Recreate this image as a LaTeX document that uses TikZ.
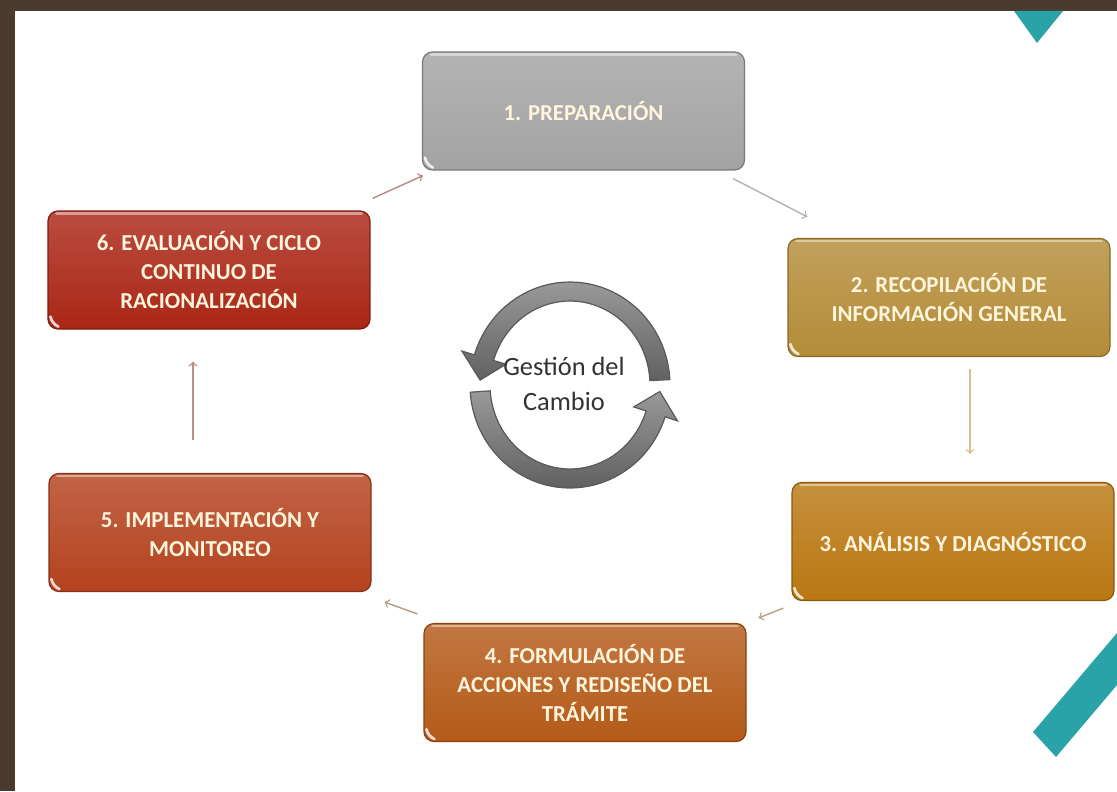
\documentclass[tikz,border=0pt]{standalone}
\usepackage{fontspec}
\setmainfont{Carlito}
\usepackage{tikz}
\usepackage{xcolor}

\definecolor{frame}{HTML}{4B3A2E}
\definecolor{teal}{HTML}{2AA3A8}
\definecolor{cream}{HTML}{FFF5DC}
\definecolor{c1}{HTML}{A3A3A3}
\definecolor{c2}{HTML}{B48C38}
\definecolor{c3}{HTML}{B97712}
\definecolor{c4}{HTML}{B45A18}
\definecolor{c5}{HTML}{B4421E}
\definecolor{c6}{HTML}{AA2616}

\begin{document}
\begin{tikzpicture}[x=0.5pt, y=-0.5pt,
  main/.style = {draw=#1!75!black, line width=0.6pt, rounded corners=5pt,
    top color=#1!82!white, bottom color=#1, text=cream, align=center,
    minimum width=161pt, minimum height=59pt,
    font=\bfseries\fontsize{11.4}{14.5}\selectfont},
  link/.style = {->, line width=0.7pt, draw=#1},
  gloss/.style = {white, line width=1.4pt, line cap=round, opacity=0.8},
  ring/.style = {draw=black!65, line width=0.6pt, top color=black!40, bottom color=black!62}]
\useasboundingbox (0,0) rectangle (1117,791);
\fill[white] (0,0) rectangle (1117,791);

% frame and stripes
\fill[frame] (0,0) rectangle (1117,11);
\fill[frame] (0,0) rectangle (15,791);
\fill[teal] (1014,11) -- (1063,11) -- (1037,43) -- cycle;
\fill[teal] (1033,732) -- (1117,633) -- (1117,685) -- (1056,757) -- cycle;

% stages
\node[main=c1] (1) at (583.5,111) {1. PREPARACIÓN};
\node[main=c2] (2) at (949,297.5) {2. RECOPILACIÓN DE\\INFORMACIÓN GENERAL};
\node[main=c3] (3) at (953,541.5) {3. ANÁLISIS Y DIAGNÓSTICO};
\node[main=c4] (4) at (585,682.5) {4. FORMULACIÓN DE\\ACCIONES Y REDISEÑO DEL\\TRÁMITE};
\node[main=c5] (5) at (210,532.5) {5. IMPLEMENTACIÓN Y\\MONITOREO};
\node[main=c6] (6) at (209,270) {6. EVALUACIÓN Y CICLO\\CONTINUO DE\\RACIONALIZACIÓN};

% glossy edges
\foreach \n in {1,...,6} {
  \draw[gloss] ([shift={(3,-13)}]\n.south west) to[bend right=25] ([shift={(11,-3)}]\n.south west);
  \draw[gloss, opacity=0.45] ([shift={(9,3)}]\n.north west) -- ([shift={(-9,3)}]\n.north east);
}

\draw[link=c6!45!gray!70] ([shift={(2,-12)}]6.north east) -- ([shift={(1,5)}]1.south west);
\draw[link=black!30] ([shift={(-12,8)}]1.south east) -- ([shift={(20,-21)}]2.north west);
\draw[link=c2!55!white] ([shift={(21,12)}]2.south) -- ([shift={(17,-28)}]3.north);
\draw[link=c3!40!gray!70] ([shift={(-8,7)}]3.south west) -- ([shift={(12,-5)}]4.north east);
\draw[link=c4!45!gray!70] ([shift={(-6,-9)}]4.north west) -- ([shift={(13,10)}]5.south east);
\draw[link=c5!45!gray!70] ([shift={(-17,-33)}]5.north) -- ([shift={(-16,32)}]6.south);

% ring arrows
\path[ring] plot[domain=3:163, samples=40] ({570+100*cos(\x)}, {385-103*sin(\x)})
  -- ({570+113*cos(163)}, {385-116*sin(163)})
  -- ({570+90*cos(177)}, {385-93.5*sin(177)})
  -- ({570+67*cos(163)}, {385-71*sin(163)})
  -- plot[domain=163:3, samples=40] ({570+80*cos(\x)}, {385-84*sin(\x)})
  -- cycle;
\path[ring] plot[domain=184:342, samples=50] ({570+100*cos(\x)}, {385-103*sin(\x)})
  -- ({570+113*cos(342)}, {385-116*sin(342)})
  -- ({570+90*cos(356)}, {385-93.5*sin(356)})
  -- ({570+67*cos(342)}, {385-71*sin(342)})
  -- plot[domain=342:184, samples=50] ({570+80*cos(\x)}, {385-84*sin(\x)})
  -- cycle;
\node[text=black!80, align=center, font=\fontsize{13.2}{17.5}\selectfont] (c) at (564,384) {Gestión del\\Cambio};
\end{tikzpicture}
\end{document}
